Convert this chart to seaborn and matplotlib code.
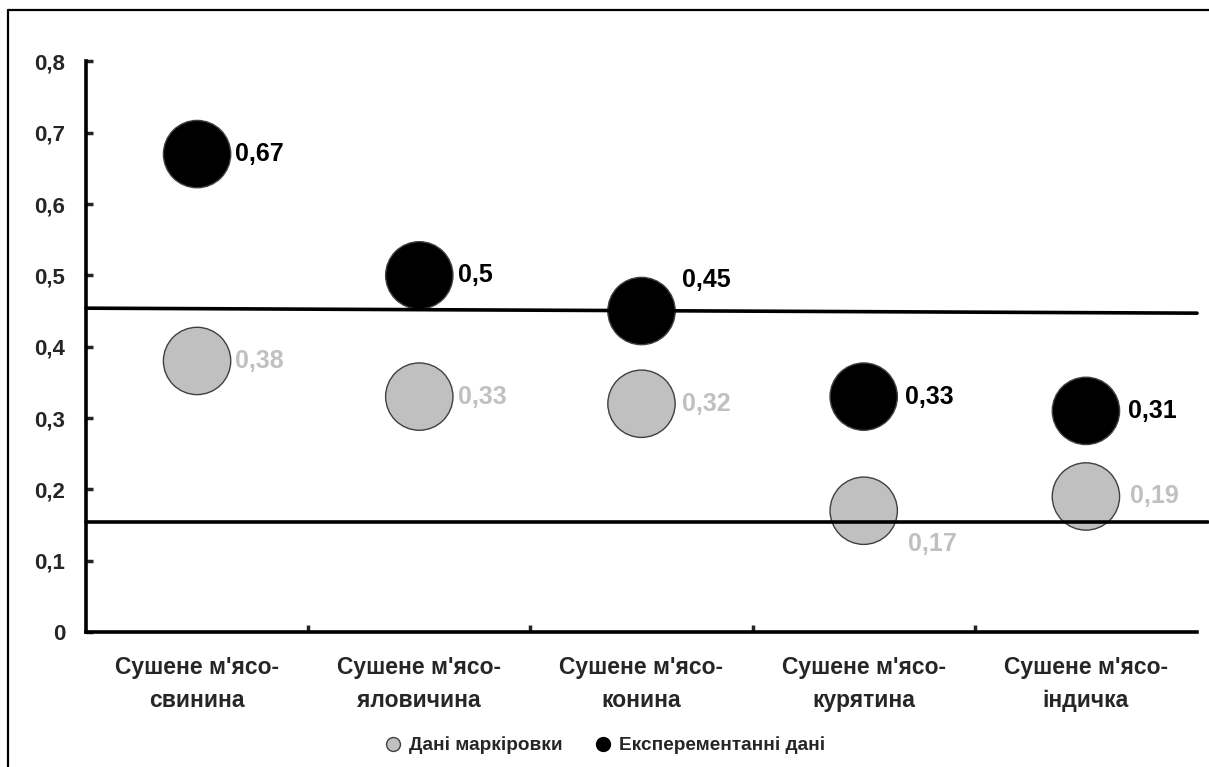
import numpy as np
import pandas as pd
import seaborn as sns
import matplotlib.pyplot as plt
from matplotlib.lines import Line2D
from matplotlib.ticker import FixedLocator, FuncFormatter

categories = ["Сушене м'ясо-\nсвинина", "Сушене м'ясо-\nяловичина", "Сушене м'ясо-\nконина",
              "Сушене м'ясо-\nкурятина", "Сушене м'ясо-\nіндичка"]
label_data = [0.38, 0.33, 0.32, 0.17, 0.19]
exp_data = [0.67, 0.50, 0.45, 0.33, 0.31]
series_names = ["Дані маркіровки", "Експерементанні дані"]
upper_line = [0.454, 0.447]
lower_line = [0.154, 0.154]

sns.set_style("white")
plt.rcParams['font.family'] = ['Liberation Sans', 'DejaVu Sans']
plt.rcParams['font.weight'] = 'bold'

df = pd.DataFrame({
    "x": list(range(len(categories))) * 2,
    "y": label_data + exp_data,
    "series": [series_names[0]] * len(categories) + [series_names[1]] * len(categories),
})

fig = plt.figure(figsize=(12.09, 7.67), dpi=100)
ax = fig.add_axes([0.0711, 0.176, 0.919, 0.744])

sns.scatterplot(data=df, x="x", y="y", hue="series",
                palette={series_names[0]: "#c0c0c0", series_names[1]: "black"},
                s=2350, edgecolor="#404040", linewidth=1.0, legend=False, ax=ax, zorder=2)

# reference lines, drawn over the bubbles
ax.plot([-0.5, 4.5], upper_line, color="black", lw=2.6, zorder=3, clip_on=False)
ax.plot([-0.5, 4.55], lower_line, color="black", lw=2.6, zorder=3, clip_on=False)

# value labels
exp_offsets = [(27, 0), (28, 0), (29, 22), (30, 0), (30, 0)]
lab_offsets = [(27, 0), (28, 0), (29, 0), (32, -24), (32, 0)]
for i, v in enumerate(exp_data):
    ax.annotate(f"{v:g}".replace(".", ","), (i, v), xytext=exp_offsets[i],
                textcoords="offset points", ha="left", va="center",
                fontsize=18, fontweight="bold", color="black", zorder=4)
for i, v in enumerate(label_data):
    ax.annotate(f"{v:g}".replace(".", ","), (i, v), xytext=lab_offsets[i],
                textcoords="offset points", ha="left", va="center",
                fontsize=18, fontweight="bold", color="#c0c0c0", zorder=4)

ax.set_xlim(-0.5, len(categories) - 0.5)
ax.set_ylim(0, 0.8)
ax.set_xlabel("")
ax.set_ylabel("")

ax.yaxis.set_major_locator(FixedLocator(np.arange(0, 0.81, 0.1)))
ax.yaxis.set_major_formatter(FuncFormatter(lambda v, p: f"{v:.1f}".replace(".", ",") if v > 0.001 else "0"))
ax.tick_params(axis="y", direction="in", length=5, width=2.5, pad=15, labelsize=16, left=True)

ax.xaxis.set_major_locator(FixedLocator(np.arange(0.5, len(categories) - 0.5, 1)))
ax.xaxis.set_major_formatter(FuncFormatter(lambda v, p: ""))
ax.xaxis.set_minor_locator(FixedLocator(range(len(categories))))
ax.set_xticklabels(categories, minor=True)
ax.tick_params(axis="x", which="major", direction="in", length=5, width=2.5, bottom=True)
ax.tick_params(axis="x", which="minor", length=0, pad=17, labelsize=16.5)
for t in ax.get_xticklabels(minor=True):
    t.set_fontweight("bold")
    t.set_linespacing(1.6)
for t in ax.get_yticklabels():
    t.set_fontweight("bold")

sns.despine(ax=ax)
for side in ["left", "bottom"]:
    ax.spines[side].set_linewidth(2.6)
    ax.spines[side].set_color("black")

handles = [Line2D([], [], marker="o", ls="", markersize=10, markerfacecolor="#c0c0c0",
                  markeredgecolor="#404040", markeredgewidth=1.0),
           Line2D([], [], marker="o", ls="", markersize=10, markerfacecolor="black",
                  markeredgecolor="black")]
fig.legend(handles, series_names, loc="center", bbox_to_anchor=(0.5, 0.028), ncol=2,
           frameon=False, prop={"weight": "bold", "size": 13.7}, handlelength=1.0,
           handletextpad=0.35, columnspacing=1.6)

# outer frame (left and top edges visible)
fig.add_artist(Line2D([8 / 1209, 8 / 1209], [0, 1 - 10 / 767], color="black", lw=1.6))
fig.add_artist(Line2D([8 / 1209, 1], [1 - 10 / 767, 1 - 10 / 767], color="black", lw=1.6))

fig.savefig("out.png", dpi=100)
